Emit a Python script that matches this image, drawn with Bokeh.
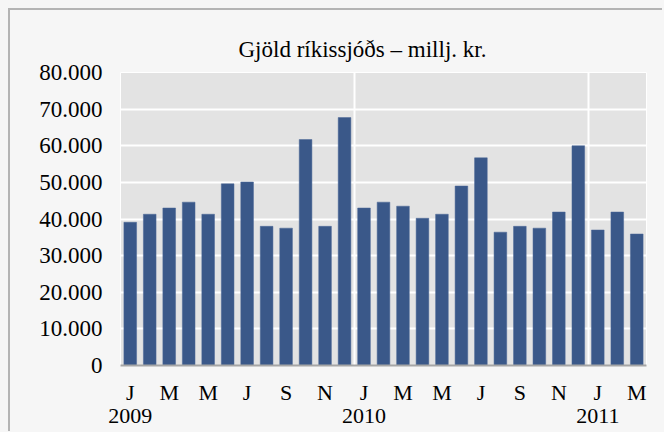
from bokeh.plotting import figure
from bokeh.layouts import column
from bokeh.models import FixedTicker, LinearAxis, Range1d, CustomJSTickFormatter
from bokeh.embed import file_html
from bokeh.resources import INLINE

# ---- data ----
title_text = "Gjöld ríkissjóðs – millj.  kr."
month_labels = ["J", "F", "M", "A", "M", "J", "J", "Á", "S", "O", "N", "D",
                "J", "F", "M", "A", "M", "J", "J", "Á", "S", "O", "N", "D",
                "J", "F", "M"]
years = ["2009", "2010", "2011"]
values = [39100, 41300, 43000, 44600, 41300, 49600, 50100, 38000, 37500, 61700, 38000, 67700,
          43000, 44600, 43500, 40200, 41300, 49000, 56700, 36400, 38000, 37500, 41900, 60000,
          37000, 41900, 35900]
y_ticks = [0, 10000, 20000, 30000, 40000, 50000, 60000, 70000, 80000]

n = len(values)
xs = [i + 0.5 for i in range(n)]
FONT = "Liberation Serif"

p = figure(frame_width=524, frame_height=291,
           x_range=Range1d(0, n), y_range=Range1d(0, 80000),
           output_backend="svg", toolbar_location=None,
           min_border_left=110, min_border_top=62, min_border_right=18, min_border_bottom=68)
p.background_fill_color = "#e3e3e3"
p.border_fill_color = "#f6f6f6"
p.outline_line_color = "white"
p.outline_line_width = 1
p.styles = {"border-top": "2px solid #b4b4b4", "border-left": "2px solid #b4b4b4"}

p.vbar(x=xs, top=values, width=0.65, bottom=0, fill_color="#3a5889",
       line_color="#4a6797", line_width=0.5)

# title
p.title.text = title_text
p.title.align = "left"
p.title.offset = 118
p.title.standoff = 21
p.title.text_font = FONT
p.title.text_font_size = "23px"
p.title.text_font_style = "normal"
p.title.text_color = "black"

# grids
p.ygrid.ticker = FixedTicker(ticks=y_ticks)
p.ygrid.grid_line_color = "white"
p.ygrid.grid_line_width = 2
p.xgrid.ticker = FixedTicker(ticks=[12, 24])
p.xgrid.grid_line_color = "white"
p.xgrid.grid_line_width = 2

# y axis
ya = p.yaxis[0]
ya.ticker = FixedTicker(ticks=y_ticks)
ya.formatter = CustomJSTickFormatter(code="return tick.toFixed(0).replace(/\\B(?=(\\d{3})+(?!\\d))/g, '.');")
ya.axis_line_color = None
ya.major_tick_line_color = None
ya.minor_tick_line_color = None
ya.major_tick_in = 0
ya.major_tick_out = 0
ya.major_label_standoff = 18
ya.major_label_text_font = FONT
ya.major_label_text_font_size = "23px"
ya.major_label_text_color = "black"

# month axis
xa = p.xaxis[0]
xa.ticker = FixedTicker(ticks=[i + 0.5 for i in range(0, n, 2)])
xa.formatter = CustomJSTickFormatter(args=dict(labels=month_labels),
                                     code="return labels[Math.floor(tick)] || '';")
xa.axis_line_color = "#a6a6a6"
xa.axis_line_width = 2
xa.major_tick_line_color = None
xa.minor_tick_line_color = None
xa.major_tick_in = 0
xa.major_tick_out = 0
xa.major_label_standoff = 14
xa.major_label_text_font = FONT
xa.major_label_text_font_size = "22px"
xa.major_label_text_color = "black"

# year axis
year_axis = LinearAxis(ticker=FixedTicker(ticks=[0.5, 12.5, 24.5]),
                       formatter=CustomJSTickFormatter(args=dict(years=years),
                                                       code="return years[Math.floor(tick / 12)] || '';"))
year_axis.axis_line_color = None
year_axis.major_tick_line_color = None
year_axis.minor_tick_line_color = None
year_axis.major_tick_in = 0
year_axis.major_tick_out = 0
year_axis.major_label_standoff = 1
year_axis.major_label_text_font = FONT
year_axis.major_label_text_font_size = "22px"
year_axis.major_label_text_color = "black"
p.add_layout(year_axis, "below")

root = column(p, styles={"padding": "8px 0 0 8px", "background-color": "#f6f6f6"})

html = file_html(root, INLINE)
html = html.replace("</head>", "<style>html, body { background-color: #f6f6f6; }</style></head>", 1)
open("out.html", "w").write(html)
